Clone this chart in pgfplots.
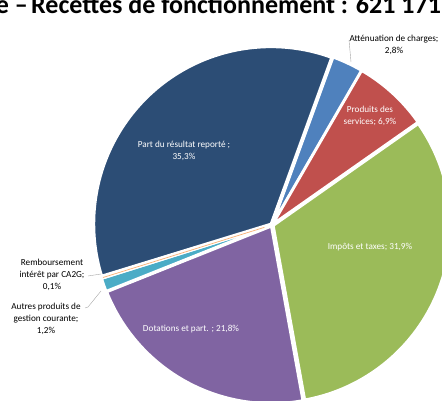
\documentclass[border=0pt]{standalone}
\usepackage{pgfplots}
\pgfplotsset{compat=1.18}
\usepackage{fontspec}
\setmainfont{Carlito}

\definecolor{c1}{HTML}{4F81BD}
\definecolor{c2}{HTML}{C0504D}
\definecolor{c3}{HTML}{9BBB59}
\definecolor{c4}{HTML}{8064A2}
\definecolor{c5}{HTML}{4BACC6}
\definecolor{c6}{HTML}{F79646}
\definecolor{c7}{HTML}{2C4D75}
\definecolor{leader}{HTML}{A6A6A6}

\tikzset{lbl/.style={inner sep=0pt, align=center, font=\fontsize{9.2}{12}\selectfont}}

% pie geometry (image pixels, y measured from the bottom)
\def\pcx{272}
\def\pcy{176}
\def\pr{177}
\def\cum{0}

% \slice{percent}{colour}
\newcommand{\slice}[2]{%
  \pgfmathsetmacro{\sa}{20+3.6*\cum}%
  \pgfmathsetmacro{\sb}{20+3.6*(\cum+#1)}%
  \pgfmathsetmacro{\sm}{(\sa+\sb)/2}%
  \pgfmathsetmacro{\cx}{\pcx+1.5*sin(\sm)}%
  \pgfmathsetmacro{\cy}{\pcy+1.5*cos(\sm)}%
  \edef\doslice{\noexpand\addplot[fill=#2, draw=white, line width=2.5pt,
    line join=round, domain=\sa:\sb, samples=90]
    ({\cx+\pr*sin(x)}, {\cy+\pr*cos(x)}) -- (axis cs:\cx,\cy) -- cycle;}%
  \doslice
  \xdef\lastmid{\sm}%
  \pgfmathsetmacro{\newcum}{\cum+#1}%
  \xdef\cum{\newcum}%
}

\begin{document}
\begin{tikzpicture}
\useasboundingbox (0,0) rectangle (442pt,401pt);
\clip (0,0) rectangle (442pt,401pt);
\begin{axis}[
    at={(0,0)}, anchor=south west,
    scale only axis, width=442pt, height=401pt,
    xmin=0, xmax=442, ymin=0, ymax=401,
    hide axis, clip=false,
    no markers,
]
\slice{2.8}{c1}  % Atténuation de charges
\slice{6.9}{c2}  % Produits des services
\slice{31.9}{c3} % Impôts et taxes
\slice{21.8}{c4} % Dotations et part.
\slice{1.2}{c5}  % Autres produits de gestion courante
\slice{0.1}{c6}  % Remboursement intérêt par CA2G
\xdef\remmid{\lastmid}
\slice{35.3}{c7} % Part du résultat reporté

% thin visible sliver for the 0.1 % slice
\edef\dosliver{\noexpand\addplot[draw=c6!75!white, line width=0.7pt, domain=8:\pr, samples=2]
  ({\pcx+x*sin(\remmid)}, {\pcy+x*cos(\remmid)});}
\dosliver

% leader lines
\addplot[leader, thin] coordinates {(349,361) (351,339)};
\addplot[leader, thin] coordinates {(88,125) (101,127)};
\addplot[leader, thin] coordinates {(85,93) (88,94) (101,110)};

% labels
\node[lbl] at (axis cs:394,356.5) {Atténuation de charges;\\2,8\%};
\node[lbl, text=white] at (axis cs:370,285.5) {Produits des\\services; 6,9\%};
\node[lbl, text=white] at (axis cs:370,154) {Impôts et taxes; 31,9\%};
\node[lbl, text=white] at (axis cs:191,72) {Dotations et part. ; 21,8\%};
\node[lbl, text=white] at (axis cs:184,250) {Part du résultat reporté ;\\35,3\%};
\node[lbl] at (axis cs:52,126) {Remboursement\\intérêt par CA2G;\\0,1\%};
\node[lbl] at (axis cs:46,82) {Autres produits de\\gestion courante;\\1,2\%};

% title, cropped by the picture frame
\node[anchor=base west, inner sep=0pt, font=\fontsize{26}{30}\selectfont\bfseries] at (axis cs:31,387.5)
  {Recettes de fonctionnement : 621 171 €};
\node[anchor=base east, inner sep=0pt, font=\fontsize{26}{30}\selectfont\bfseries] at (axis cs:28,387.5)
  {e –};
\end{axis}
\end{tikzpicture}
\end{document}
